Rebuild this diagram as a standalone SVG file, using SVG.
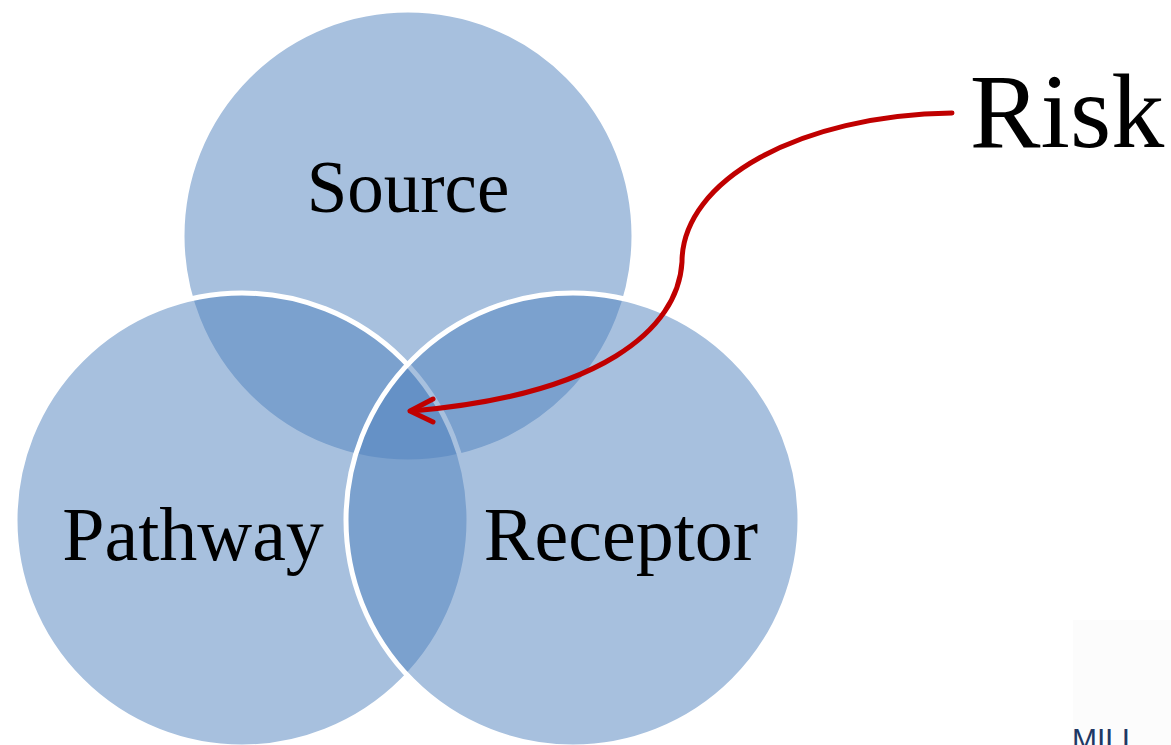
<svg xmlns="http://www.w3.org/2000/svg" width="1171" height="745" viewBox="0 0 1171 745">
<style>
.c{fill:#4F81BD;fill-opacity:0.5;stroke:#FFFFFF;stroke-width:5}
.t{font-family:"Liberation Serif","DejaVu Serif",serif;fill:#000000;text-anchor:middle}
.a{fill:none;stroke:#C00000;stroke-width:5;stroke-linecap:round;stroke-linejoin:round}
</style>
<rect width="1171" height="745" fill="#FFFFFF"/>
<rect x="1073" y="620" width="98" height="125" fill="#FCFCFC"/>
<text x="1072" y="749" font-family="'Liberation Sans',Arial,sans-serif" font-size="30" fill="#1F3864">MILL</text>
<g id="source"><circle class="c" cx="408" cy="236" r="226" stroke="none"/><text class="t" x="408" y="212" font-size="73">Source</text></g>
<g id="pathway"><circle class="c" cx="242" cy="520" r="227"/><text class="t" x="193" y="560" font-size="76">Pathway</text></g>
<g id="receptor"><circle class="c" cx="573" cy="520" r="227"/><text class="t" x="621" y="560" font-size="76">Receptor</text></g>
<g id="risk"><text class="t" x="1067" y="147" font-size="106">Risk</text></g>
<g id="connectors">
<path class="a" d="M952,113 C800,115 682,180 682,262 C678,330 600,395 412,411"/>
<path class="a" d="M433,399 L410,411 L433,422"/>
</g>
</svg>
